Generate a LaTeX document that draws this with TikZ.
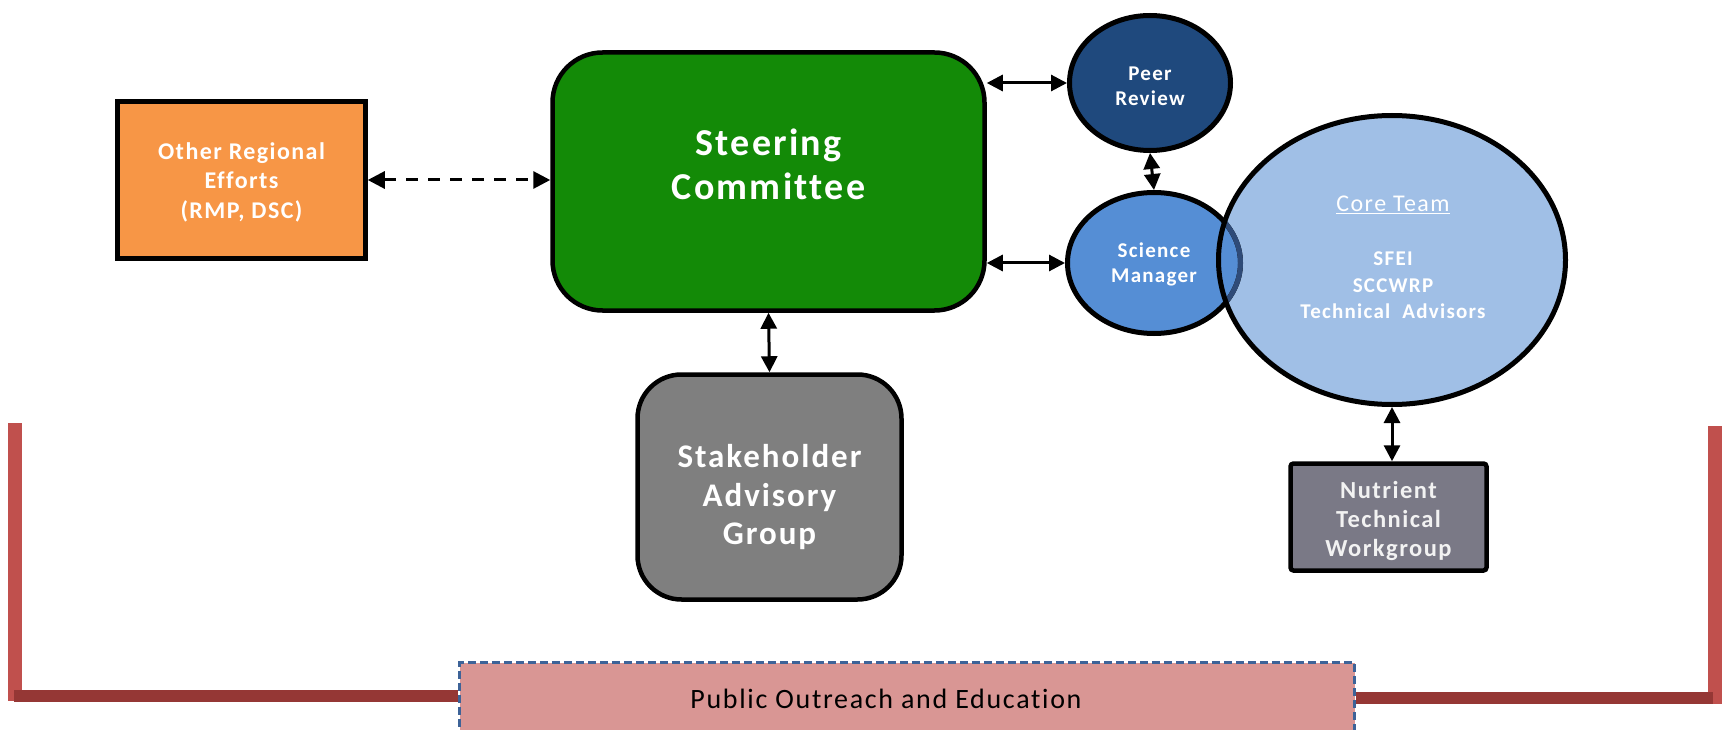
\documentclass[tikz,border=0pt]{standalone}
\usepackage{fontspec}
\setmainfont{Carlito}[LetterSpace=6,Ligatures=NoCommon]
\usetikzlibrary{arrows.meta,shapes.geometric}
\definecolor{orangefill}{HTML}{F79646}
\definecolor{greenfill}{HTML}{138A07}
\definecolor{peerfill}{HTML}{1F497D}
\definecolor{scifill}{HTML}{558ED5}
\definecolor{corefill}{HTML}{A0BFE6}
\definecolor{coreinner}{HTML}{2F4B78}
\definecolor{stakefill}{HTML}{7F7F7F}
\definecolor{nutfill}{HTML}{7A7986}
\definecolor{outfill}{HTML}{D99694}
\definecolor{outblue}{HTML}{3D6398}
\definecolor{redv}{HTML}{C0504D}
\definecolor{redh}{HTML}{953735}
\begin{document}
\begin{tikzpicture}[x=1pt,y=-1pt,
  box/.style={draw=black, line width=4.5pt, inner sep=0pt},
  oval/.style={ellipse, draw=black, line width=5pt, inner sep=0pt},
  lbl/.style={text=white, align=center, inner sep=0pt},
  tipa/.tip={Triangle[length=16pt,width=16pt]},
  link/.style={line width=3pt, tipa-tipa},
  dlink/.style={line width=3pt, dash pattern=on 12pt off 10pt, {Triangle[length=17pt,width=17pt]}-{Triangle[length=17pt,width=17pt]}},
  redline/.style={line width=14pt, draw=redv},
  redbase/.style={line width=12pt, draw=redh}]
\useasboundingbox (0,0) rectangle (1725,730);

% red bracket lines
\coordinate (ltop) at (15,423);
\coordinate (lbot) at (15,701);
\coordinate (rtop) at (1715,426);
\coordinate (rbot) at (1715,704);
\draw[redline] (ltop) -- (lbot);
\draw[redline] (rtop) -- (rbot);

% public outreach
\node[draw=outblue, line width=3pt, dash pattern=on 8pt off 4pt, fill=outfill,
      minimum width=895pt, minimum height=110pt, anchor=north west, inner sep=0pt] (out) at (458,661) {};
\coordinate (ljoin) at (14,696);
\coordinate (rjoin) at (1713,698);
\draw[redbase] (ljoin) -- (ljoin -| out.west);
\draw[redbase] (rjoin -| out.east) -- (rjoin);
\node[anchor=base, inner sep=0pt, text=black, font=\fontsize{28}{34}\selectfont] (outtxt) at (886,708) {Public Outreach and Education};

% boxes
\node[box, fill=orangefill, minimum width=248pt, minimum height=157pt] (ore) at (241.5,180) {};
\node[lbl, font=\fontsize{24}{29.5}\selectfont\bfseries] (oretxt) at (241.5,182) {Other Regional\\Efforts\\(RMP, DSC)};

\node[box, fill=greenfill, rounded corners=50pt, minimum width=432pt, minimum height=258pt] (sc) at (768.5,181.5) {};
\node[lbl, font=\fontsize{38}{44}\selectfont\bfseries] (sctxt) at (768.5,164) {Steering\\Committee};

\node[box, fill=stakefill, rounded corners=44pt, minimum width=264pt, minimum height=225pt] (stake) at (769.5,487) {};
\node[lbl, font=\fontsize{33}{38.5}\selectfont\bfseries] (staketxt) at (769.5,497.5) {Stakeholder\\Advisory\\Group};

\node[box, fill=nutfill, rounded corners=3pt, minimum width=196pt, minimum height=107pt] (nut) at (1388.5,517) {};
\node[lbl, font=\fontsize{24.5}{29}\selectfont\bfseries, text=white!95!black] (nuttxt) at (1388.5,521) {Nutrient\\Technical\\Workgroup};

% ellipses
\node[oval, fill=peerfill, minimum width=161pt, minimum height=135pt] (peer) at (1150,83) {};
\node[lbl, font=\fontsize{21}{25}\selectfont\bfseries] (peertxt) at (1150,86) {Peer\\Review};

\node[oval, draw=none, fill=corefill, minimum width=347pt, minimum height=289pt] (core) at (1392,260) {};
\node[oval, fill=scifill, minimum width=173pt, minimum height=141pt] (sci) at (1154,263) {};
\begin{scope}
  \clip (core.center) ellipse [x radius=173.5, y radius=144.5];
  \node[oval, draw=coreinner, minimum width=173pt, minimum height=141pt] (sciinner) at (sci.center) {};
\end{scope}
\node[oval, minimum width=347pt, minimum height=289pt] (coreborder) at (core.center) {};
\node[lbl, font=\fontsize{21}{25}\selectfont\bfseries] (scitxt) at (1154,264) {Science\\Manager};
\node[anchor=base, text=white, inner sep=0pt, font=\fontsize{24}{28}\selectfont] (coretitle) at (1393,212) {\underline{Core Team}};
\node[lbl, font=\fontsize{21}{26.5}\selectfont\bfseries] (coretxt) at (1393,285.5) {SFEI\\SCCWRP\\Technical\ \ Advisors};

% connectors
\draw[dlink] (ore.east) -- (ore.east -| sc.west);
\draw[link] (peer.west -| sc.east) -- (peer.west);
\draw[link] (sci.west -| sc.east) -- (sci.west);
\draw[link] (peer.south) -- (sci.north);
\draw[link] (sc.south) -- (stake.north);
\draw[link] (core.south) -- (core.south |- nut.north);
\end{tikzpicture}
\end{document}
